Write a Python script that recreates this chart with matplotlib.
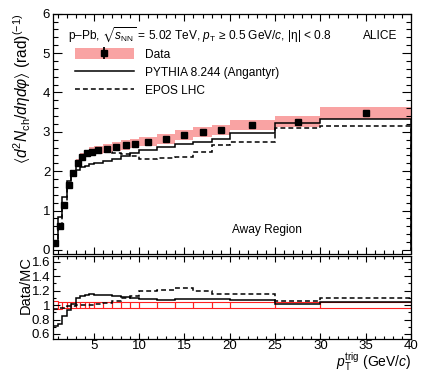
import numpy as np
import matplotlib
matplotlib.use("Agg")
import matplotlib.pyplot as plt
from matplotlib.patches import Patch
from matplotlib.lines import Line2D
from matplotlib.ticker import MultipleLocator, FormatStrFormatter

# ---- data ----
bin_edges = [0.5, 1, 1.5, 2, 2.5, 3, 3.5, 4, 4.5, 5, 6, 7, 8, 9, 10,
             12, 14, 16, 18, 20, 25, 30, 40]
data = [0.17, 0.61, 1.14, 1.65, 1.96, 2.22, 2.37, 2.45, 2.50, 2.54, 2.57,
        2.62, 2.66, 2.70, 2.75, 2.82, 2.92, 2.99, 3.05, 3.17, 3.26, 3.48]
data_stat = [0.01, 0.01, 0.01, 0.01, 0.01, 0.01, 0.01, 0.01, 0.01, 0.01, 0.01,
             0.01, 0.01, 0.01, 0.01, 0.01, 0.01, 0.02, 0.02, 0.03, 0.05, 0.08]
data_syst = [0.01, 0.03, 0.05, 0.07, 0.08, 0.09, 0.10, 0.10, 0.11, 0.11, 0.11,
             0.11, 0.12, 0.12, 0.12, 0.12, 0.13, 0.13, 0.13, 0.13, 0.14, 0.15]
pythia = [0.24, 0.83, 1.35, 1.76, 1.92, 2.03, 2.10, 2.14, 2.18, 2.22, 2.26,
          2.32, 2.38, 2.45, 2.54, 2.62, 2.69, 2.75, 2.82, 2.96, 3.22, 3.32]
epos = [0.18, 0.64, 1.18, 1.68, 1.98, 2.22, 2.37, 2.45, 2.50, 2.51, 2.50,
        2.47, 2.43, 2.39, 2.31, 2.33, 2.36, 2.50, 2.66, 2.75, 3.09, 3.15]

plt.rcParams.update({
    "font.family": ["Liberation Sans", "DejaVu Sans"],
    "mathtext.fontset": "custom",
    "mathtext.rm": "Liberation Sans",
    "mathtext.it": "Liberation Sans:italic",
    "mathtext.bf": "Liberation Sans:bold",
    "mathtext.fallback": "stixsans",
    "axes.linewidth": 0.9,
})

W, H = 431, 376
fig = plt.figure(figsize=(W / 100, H / 100), dpi=100)
L, R = 53, 411
ax = fig.add_axes([L / W, 1 - 253.5 / H, (R - L) / W, (253.5 - 13.7) / H])
axr = fig.add_axes([L / W, 1 - 339 / H, (R - L) / W, (339 - 256) / H], sharex=ax)

edges = np.array(bin_edges)
centers = 0.5 * (edges[1:] + edges[:-1])
widths = np.diff(edges)
d = np.array(data)
stat = np.array(data_stat)
syst = np.array(data_syst)
py = np.array(pythia)
ep = np.array(epos)

pink = "#f9a3a3"
dash = (0, (3.2, 2.0))
txt = 8.6

# ---- top panel ----
ax.bar(edges[:-1], 2 * syst, width=widths, bottom=d - syst, align="edge",
       color=pink, linewidth=0, zorder=1)
ax.stairs(py, edges, color="k", lw=1.1, zorder=2)
ax.stairs(ep, edges, color="k", lw=1.1, linestyle=dash, zorder=2)
eb = ax.errorbar(centers, d, yerr=stat, fmt="s", ms=4.6, color="k",
                 elinewidth=1.3, capsize=0, zorder=3)

ax.set_xlim(0.5, 40)
ax.set_ylim(-0.09, 6.0)
ax.yaxis.set_major_locator(MultipleLocator(1))
ax.yaxis.set_minor_locator(MultipleLocator(0.2))
ax.xaxis.set_major_locator(MultipleLocator(5))
ax.xaxis.set_minor_locator(MultipleLocator(1))
ax.tick_params(axis="both", which="both", direction="in", top=True, right=True,
               labelbottom=False, labelsize=9.5, pad=2)
ax.tick_params(axis="y", which="major", length=6.5, width=0.8)
ax.tick_params(axis="y", which="minor", length=3.3, width=0.8)
ax.tick_params(axis="x", which="major", length=5, width=0.8)
ax.tick_params(axis="x", which="minor", length=2.6, width=0.8)
ax.set_ylabel(r"$\langle d^{2}N_{\rm ch}/d\eta d\varphi\rangle$ (rad)$^{(-1)}$",
              fontsize=11.2, loc="top")
ax.yaxis.set_label_coords(-0.056, 1.0)

ax.text(0.042, 0.8945,
        r"p–Pb, $\sqrt{s_{\rm NN}}$ = 5.02 TeV, $p_{\rm T}$ ≥ 0.5 GeV/$c$, |η| < 0.8",
        transform=ax.transAxes, fontsize=txt, ha="left", va="baseline")
ax.text(0.961, 0.8945, "ALICE", transform=ax.transAxes, fontsize=txt,
        ha="right", va="baseline")
ax.text(0.50, 0.084, "Away Region", transform=ax.transAxes, fontsize=txt,
        ha="left", va="baseline")

h_data = (Patch(facecolor=pink, edgecolor="none"), eb)
h_py = Line2D([], [], color="k", lw=1.1)
h_ep = Line2D([], [], color="k", lw=1.1, linestyle=dash)
ax.legend([h_data, h_py, h_ep], ["Data", "PYTHIA 8.244 (Angantyr)", "EPOS LHC"],
          loc="upper left", bbox_to_anchor=(0.0615, 0.856), frameon=False,
          fontsize=txt, handlelength=4.9, handletextpad=1.0, labelspacing=0.5,
          handleheight=0.97, borderpad=0, borderaxespad=0, numpoints=1)

# ---- ratio panel ----
rel = syst / d
axr.bar(edges[:-1], 2 * rel, width=widths, bottom=1 - rel, align="edge",
        fill=False, edgecolor="#ff2020", linewidth=0.8, zorder=1)
axr.stairs(d / py, edges, baseline=None, color="k", lw=1.1, zorder=2)
axr.stairs(d / ep, edges, baseline=None, color="k", lw=1.1, linestyle=dash, zorder=2)

axr.set_ylim(0.53, 1.68)
axr.yaxis.set_major_locator(MultipleLocator(0.2))
axr.yaxis.set_minor_locator(MultipleLocator(0.1))
axr.yaxis.set_major_formatter(FormatStrFormatter("%g"))
axr.tick_params(axis="both", which="both", direction="in", top=True, right=True,
                labelsize=9.5)
axr.tick_params(axis="y", which="major", length=4.8, width=0.8, pad=2)
axr.tick_params(axis="y", which="minor", length=2.4, width=0.8)
axr.tick_params(axis="x", which="major", length=4.2, width=0.8, pad=1)
axr.tick_params(axis="x", which="minor", length=2.2, width=0.8)
axr.set_ylabel("Data/MC", fontsize=10.5, loc="top")
axr.yaxis.set_label_coords(-0.056, 1.0)
axr.set_xlabel(r"$p_{\rm T}^{\rm trig}$ (GeV/$c$)", fontsize=10, loc="right")
axr.xaxis.set_label_coords(1.0, -0.145)

fig.savefig("out.png", dpi=100)
